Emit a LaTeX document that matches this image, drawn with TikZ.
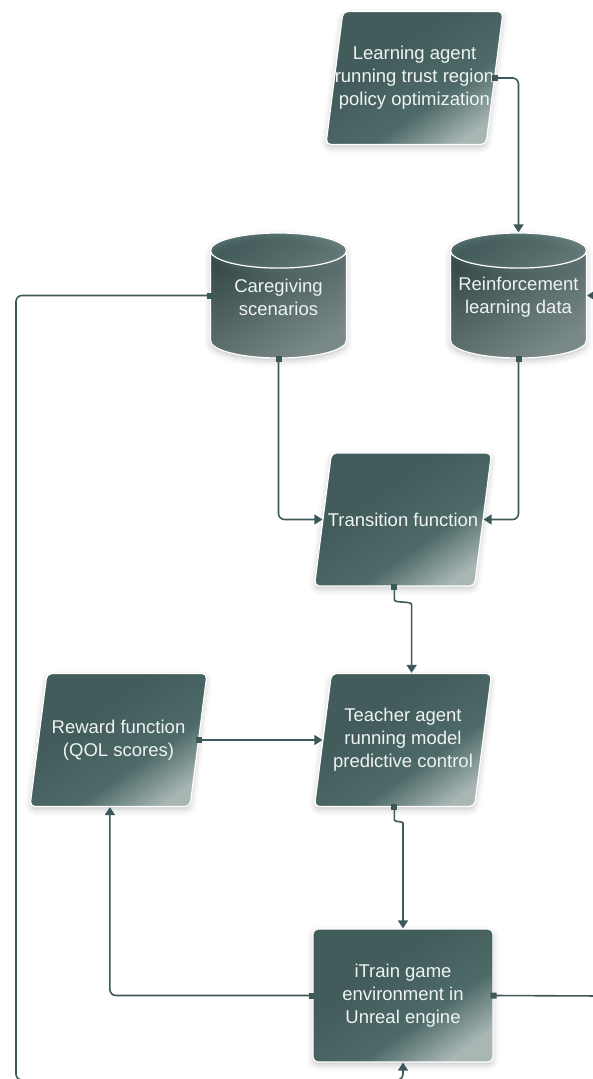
\documentclass[tikz,border=0pt]{standalone}
\usepackage{fontspec}
\setmainfont{Liberation Sans}
\usetikzlibrary{
    calc,
    arrows.meta,
    shapes.geometric,
    fadings,
    shadows.blur
}
\definecolor{slatedark}{HTML}{425B5B}
\definecolor{slatemid}{HTML}{4D6A68}
\definecolor{slatelight}{HTML}{A8B6B4}
\definecolor{slatecap}{HTML}{587775}
\definecolor{slateline}{HTML}{3D5858}
\definecolor{slatetext}{HTML}{EEF3F2}
\pgfdeclareverticalshading{slateshade}{100bp}{%
  color(0bp)=(slatelight); color(24bp)=(slatelight);
  color(40bp)=(slatemid); color(62bp)=(slatedark);
  color(100bp)=(slatedark)}
\tikzfading[name=cornerfade, top color=transparent!100,
  middle color=transparent!100, bottom color=transparent!40]

% fixed text boxes, so every parallelogram gets the same slant
\newcommand{\flowtext}[1]{\parbox[c][110pt][c]{170pt}{\centering #1}}
\newcommand{\storetext}[1]{\parbox[c][60pt][c]{130pt}{\centering #1\par\vspace{14pt}}}

\tikzset{
  boxlook/.style={draw=white, line width=1.2pt, text=slatetext,
    font=\fontsize{18.5pt}{23pt}\selectfont, align=center,
    blur shadow={shadow xshift=0pt, shadow yshift=-3pt,
      shadow blur radius=6pt, shadow opacity=22}},
  flowpara/.style={boxlook, trapezium, trapezium left angle=82.7,
    trapezium right angle=97.3, inner xsep=-13.5pt, inner ysep=11.5pt,
    rounded corners=5pt, shade, shading=slateshade, shading angle=35},
  envbox/.style={boxlook, rectangle, minimum width=180pt,
    minimum height=133pt, rounded corners=5pt, shade,
    shading=slateshade, shading angle=35},
  datastore/.style={boxlook, cylinder, shape border rotate=90,
    shape aspect=0.27, minimum width=136pt, minimum height=125pt,
    inner sep=0pt, anchor=shape center,
    cylinder uses custom fill, cylinder body fill=slatedark,
    cylinder end fill=slatecap,
    path picture={\fill[slatelight, path fading=cornerfade,
      fading angle=35] (path picture bounding box.south west)
      rectangle (path picture bounding box.north east);}},
  flowline/.style={draw=slateline, line width=1.6pt, rounded corners=6pt,
    arrows={Square[length=6pt,width=6pt]-Triangle[length=8pt,width=10pt]},
    shorten <=-3pt}
}

\begin{document}
\begin{tikzpicture}[x=1pt, y=-1pt]
  \useasboundingbox (0,0) rectangle (593,1079);

  \node[flowpara] (agent) at (414.5,78)
    {\flowtext{Learning agent\\running trust region\\policy optimization}};
  \node[datastore] (care) at (278.5,295.5)
    {\storetext{Caregiving\\scenarios}};
  \node[datastore] (rldata) at (518.5,295.5)
    {\storetext{Reinforcement\\learning data}};
  \node[flowpara] (trans) at (403,519.5) {\flowtext{Transition function}};
  \node[flowpara] (reward) at (118.5,740)
    {\flowtext{Reward function\\(QOL scores)}};
  \node[flowpara] (teacher) at (403,740)
    {\flowtext{Teacher agent\\running model\\predictive control}};
  \node[envbox] (itrain) at (403,995.5)
    {iTrain game\\environment in\\Unreal engine};

  \coordinate (loopL) at (16,1080);
  \coordinate (loopR) at (603,996);

  \draw[flowline] (agent.right side) -| (rldata.north);
  \draw[flowline] (care.south) |- (trans.left side);
  \draw[flowline] (rldata.south) |- (trans.right side);
  \draw[flowline] (trans.bottom side) -- ++(0,7)
    .. controls +(0,10) and +(0,-10) ..
    ($(trans.bottom side -| teacher.top side)+(0,24)$) -- (teacher.top side);
  \draw[flowline] (reward.right side) -- (teacher.left side);
  \draw[flowline] (teacher.bottom side) -- ++(0,7)
    .. controls +(0,8) and +(0,-8) ..
    ($(teacher.bottom side -| itrain.north)+(0,22)$) -- (itrain.north);
  \draw[flowline] (itrain.west) -| (reward.bottom side);
  \draw[flowline] (itrain.east) -- (loopR) |- (rldata.shape center -| rldata.east);
  \draw[flowline] (care.shape center -| care.west) -| (loopL) -| (itrain.south);
\end{tikzpicture}
\end{document}
